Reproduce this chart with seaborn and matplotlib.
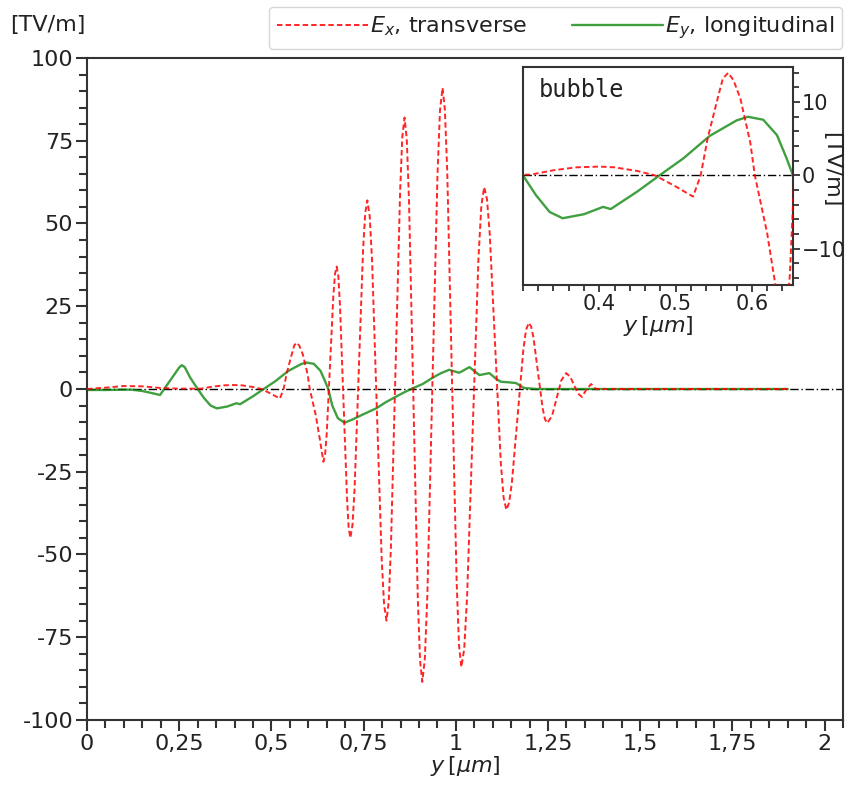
import numpy as np
import pandas as pd
import matplotlib
matplotlib.use("Agg")
import matplotlib.pyplot as plt
import matplotlib.ticker as mticker
from matplotlib.lines import Line2D
import seaborn as sns

# ---------------- data ----------------
ex_y = [0.0, 0.05, 0.10, 0.15, 0.20, 0.25, 0.31, 0.34, 0.37, 0.40, 0.42, 0.45, 0.473, 0.50,
        0.523, 0.533, 0.542, 0.554, 0.562, 0.569, 0.576, 0.585, 0.598, 0.604, 0.620, 0.631,
        0.641, 0.6455, 0.650, 0.659, 0.668, 0.6725, 0.677,
        0.6816, 0.686, 0.6955, 0.705, 0.7094, 0.714,
        0.7198, 0.7255, 0.737, 0.7485, 0.7543, 0.760,
        0.7665, 0.773, 0.786, 0.799, 0.8055, 0.812,
        0.8181, 0.824, 0.8365, 0.849, 0.8549, 0.861,
        0.867, 0.873, 0.885, 0.897, 0.903, 0.909,
        0.9159, 0.9228, 0.9365, 0.9503, 0.9571, 0.964,
        0.9704, 0.9768, 0.9895, 1.0023, 1.0086, 1.015,
        1.0228, 1.0305, 1.046, 1.0615, 1.0693, 1.077,
        1.0845, 1.092, 1.107, 1.122, 1.1295, 1.137,
        1.1446, 1.152, 1.1675, 1.183, 1.1904, 1.198,
        1.2043, 1.2105, 1.223, 1.2355, 1.2418, 1.248,
        1.261, 1.2735, 1.286, 1.299, 1.31, 1.3205, 1.331, 1.342,
        1.355, 1.367, 1.38, 1.5, 1.7, 1.9]
ex_v = [0.0, 0.4, 0.9, 0.8, 0.3, 0.1, 0.1, 0.7, 1.1, 1.2, 1.1, 0.6, 0.0, -1.5,
        -2.9, 0.0, 5.0, 10.0, 13.2, 14.0, 13.0, 10.5, 4.5, 0.0, -7.8, -15.0,
        -22.0, -19.8, -13.4, 7.5, 28.4, 34.8, 37.0,
        33.9, 25.0, -4.0, -33.0, -41.9, -45.0,
        -41.1, -30.1, 6.0, 42.1, 53.1, 57.0,
        52.2, 38.5, -6.5, -51.5, -65.2, -70.0,
        -64.2, -47.8, 6.0, 59.8, 76.2, 82.0,
        75.5, 57.1, -3.25, -63.6, -82.0, -88.5,
        -81.7, -62.3, 1.25, 64.8, 84.2, 91.0,
        84.3, 65.4, 3.5, -58.5, -77.3, -84.0,
        -78.5, -62.8, -11.5, 39.8, 55.5, 61.0,
        57.3, 46.8, 12.25, -22.3, -32.8, -36.5,
        -34.35, -28.3, -8.25, 11.8, 17.85, 20.0,
        18.85, 15.6, 4.85, -5.9, -9.15, -10.3,
        -8.1, -2.75, 2.6, 4.8, 3.75, 1.2, -1.35, -2.4,
        0.0, 1.5, 0.0, 0.0, 0.0, 0.0]

ey_y = [0.0, 0.05, 0.10, 0.12, 0.15, 0.198, 0.225, 0.250, 0.257, 0.265, 0.280, 0.30, 0.317,
        0.335, 0.352, 0.38, 0.405, 0.415, 0.45, 0.479, 0.51, 0.545, 0.58, 0.595, 0.615,
        0.633, 0.645, 0.654, 0.665, 0.68, 0.698, 0.72, 0.75, 0.785, 0.81, 0.838, 0.86,
        0.883, 0.91, 0.937, 0.96, 0.982, 1.009, 1.037, 1.064, 1.091, 1.11, 1.122, 1.145,
        1.163, 1.185, 1.22, 1.3, 1.5, 1.7, 1.9]
ey_v = [-0.3, -0.3, -0.2, -0.2, -0.6, -1.8, 2.5, 6.5, 7.2, 6.6, 3.4, 0.0, -2.7,
        -5.0, -5.85, -5.3, -4.3, -4.6, -2.2, 0.0, 2.3, 5.4, 7.5, 8.0, 7.6,
        5.5, 2.5, 0.0, -5.0, -8.8, -10.2, -9.2, -7.6, -5.8, -4.0, -2.3, -1.0,
        0.2, 1.5, 3.4, 4.8, 5.8, 4.9, 6.6, 4.2, 4.8, 3.0, 2.2, 2.0,
        1.8, 0.3, 0.0, 0.0, 0.0, 0.0, 0.0]

x_ticks = [0, 0.25, 0.5, 0.75, 1, 1.25, 1.5, 1.75, 2]
y_ticks = [-100, -75, -50, -25, 0, 25, 50, 75, 100]
inset_x_ticks = [0.4, 0.5, 0.6]
inset_y_ticks = [-10, 0, 10]
label_ex = "$E_x$, transverse"
label_ey = "$E_y$, longitudinal"

df_ex = pd.DataFrame({"y": ex_y, "E": ex_v})
df_ey = pd.DataFrame({"y": ey_y, "E": ey_v})

# ---------------- style ----------------
sns.set_theme(style="ticks")
plt.rcParams["font.family"] = ["DejaVu Sans"]
plt.rcParams["axes.edgecolor"] = "#333333"
plt.rcParams["xtick.color"] = "#333333"
plt.rcParams["ytick.color"] = "#333333"
plt.rcParams["xtick.labelcolor"] = "#222222"
plt.rcParams["ytick.labelcolor"] = "#222222"
plt.rcParams["text.color"] = "#222222"
plt.rcParams["axes.labelcolor"] = "#222222"
plt.rcParams["mathtext.fontset"] = "dejavusans"

FS = 16
RED_LS = (0, (2.8, 1.6))

fig = plt.figure(figsize=(8.49, 7.88), dpi=100)
ax = fig.add_axes([0.1025, 0.0863, 0.8905, 0.8401])

def draw(a):
    a.axhline(0, color="black", lw=1.0, ls=(0, (6, 2, 1, 2)), zorder=1)
    sns.lineplot(data=df_ey, x="y", y="E", ax=a, sort=False, estimator=None,
                 color="green", lw=1.7, alpha=0.75, zorder=2)
    sns.lineplot(data=df_ex, x="y", y="E", ax=a, sort=False, estimator=None,
                 color="red", lw=1.4, ls=RED_LS, alpha=0.85, zorder=3)

draw(ax)
ax.set_xlim(0, 2.05)
ax.set_ylim(-100, 100)
ax.set_xticks(x_ticks)
ax.set_yticks(y_ticks)
ax.xaxis.set_minor_locator(mticker.MultipleLocator(0.05))
ax.yaxis.set_minor_locator(mticker.MultipleLocator(5))
ax.xaxis.set_major_formatter(mticker.FuncFormatter(lambda v, p: f"{v:g}".replace(".", ",")))
ax.yaxis.set_major_formatter(mticker.FuncFormatter(lambda v, p: f"{int(round(v))}"))
ax.tick_params(axis="both", which="major", length=8, width=1.5, labelsize=FS, pad=2)
ax.tick_params(axis="both", which="minor", length=6, width=1.5)
for s in ax.spines.values():
    s.set_linewidth(1.5)
ax.set_xlabel(r"$y\,[\mu m]$", fontsize=FS, labelpad=0)
ax.set_ylabel("")
fig.text(0.012, 0.968, "[TV/m]", fontsize=FS, ha="left", va="center")

# legend
handles = [Line2D([], [], color="red", lw=1.4, ls=RED_LS, alpha=0.85),
           Line2D([], [], color="green", lw=1.7, alpha=0.75)]
leg = fig.legend(handles, [label_ex, label_ey], loc="upper right",
                 bbox_to_anchor=(0.997, 0.997), ncol=2, fontsize=FS,
                 handlelength=4.1, handletextpad=0.1, columnspacing=2.0,
                 frameon=True, borderpad=0.35, borderaxespad=0.2)
leg.get_frame().set_edgecolor("#cccccc")

# inset
axi = fig.add_axes([0.616, 0.638, 0.318, 0.277])
draw(axi)
axi.set_xlim(0.30, 0.654)
axi.set_ylim(-15, 14.8)
axi.set_xticks(inset_x_ticks)
axi.set_yticks(inset_y_ticks)
axi.xaxis.set_minor_locator(mticker.MultipleLocator(0.02))
axi.yaxis.set_minor_locator(mticker.MultipleLocator(2))
axi.yaxis.tick_right()
axi.yaxis.set_label_position("right")
axi.tick_params(axis="both", which="major", length=5, width=1.3, labelsize=15, pad=1.5)
axi.tick_params(axis="both", which="minor", length=4, width=1.3)
for s in axi.spines.values():
    s.set_linewidth(1.5)
axi.set_xlabel(r"$y\,[\mu m]$", fontsize=FS, labelpad=0)
axi.set_ylabel("[TV/m]", fontsize=FS, rotation=270, va="center")
axi.yaxis.set_label_coords(1.14, 0.53)
axi.text(0.06, 0.95, "bubble", transform=axi.transAxes, fontsize=17,
         family="DejaVu Sans Mono", ha="left", va="top")

fig.savefig("out.png", dpi=100)
